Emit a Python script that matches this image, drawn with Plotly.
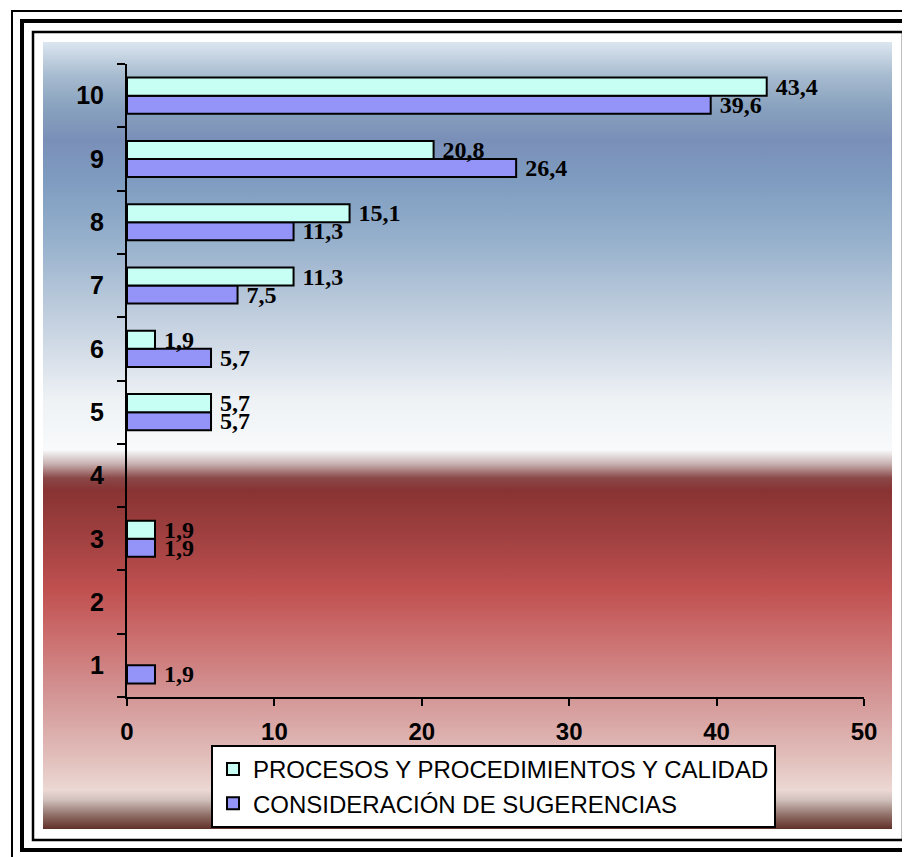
import base64
import plotly.graph_objects as go

# ---- data ----
categories = ["1", "2", "3", "4", "5", "6", "7", "8", "9", "10"]
procesos = [None, None, 1.9, None, 5.7, 1.9, 11.3, 15.1, 20.8, 43.4]
consideracion = [1.9, None, 1.9, None, 5.7, 5.7, 7.5, 11.3, 26.4, 39.6]
name_procesos = "PROCESOS Y PROCEDIMIENTOS Y CALIDAD"
name_consideracion = "CONSIDERACIÓN DE SUGERENCIAS"
x_ticks = [0, 10, 20, 30, 40, 50]

def fmt(vals):
    return ["" if v is None else " " + f"{v:.1f}".replace(".", ",") for v in vals]

W, H = 910, 857
OFF = 8  # page body margin
# plot area in page pixels
L, R, T, B = 127, 864, 64, 697

def px(x):
    return (x - L) / (R - L)

def py(y):
    return (B - y) / (B - T)

# ---- background gradient (SVG) ----
gx0, gy0, gx1, gy1 = 43, 42, 892, 829
stops = [
    (42, "#DCE6F0"), (75, "#A8BCD0"), (105, "#8AA3BF"), (140, "#7A8FB8"),
    (180, "#7E9CC0"), (240, "#96B0CC"), (300, "#B8C8DA"), (360, "#D8E0EA"),
    (400, "#EEF2F5"), (450, "#F8FAFB"), (464, "#C8B0B0"), (478, "#8A4848"),
    (490, "#883333"), (550, "#A84444"), (590, "#C05050"), (640, "#CC7070"),
    (700, "#D49898"), (760, "#E2C0BC"), (790, "#ECD8D4"), (800, "#D0C0BC"),
    (815, "#907068"), (829, "#603028"),
]
gw, gh = gx1 - gx0, gy1 - gy0
stop_xml = "".join(
    f'<stop offset="{(y - gy0) / gh:.4f}" stop-color="{c}"/>' for y, c in stops
)
svg = (
    f'<svg xmlns="http://www.w3.org/2000/svg" width="{gw}" height="{gh}" '
    f'viewBox="0 0 {gw} {gh}" preserveAspectRatio="none">'
    f'<defs><linearGradient id="g" x1="0" y1="0" x2="0" y2="1">{stop_xml}</linearGradient></defs>'
    f'<rect x="0" y="0" width="{gw}" height="{gh}" fill="url(#g)"/></svg>'
)
svg_uri = "data:image/svg+xml;base64," + base64.b64encode(svg.encode()).decode()

label_font = dict(family="Liberation Serif", size=24, color="black", weight="bold")

fig = go.Figure()
fig.add_trace(go.Bar(
    y=categories, x=consideracion, orientation="h", name=name_consideracion,
    marker=dict(color="#9494F8", line=dict(color="black", width=2)),
    text=fmt(consideracion), textposition="outside", cliponaxis=False,
    constraintext="none", textfont=label_font,
))
fig.add_trace(go.Bar(
    y=categories, x=procesos, orientation="h", name=name_procesos,
    marker=dict(color="#C8FFF4", line=dict(color="black", width=2)),
    text=fmt(procesos), textposition="outside", cliponaxis=False,
    constraintext="none", textfont=label_font,
))

shapes = [
    dict(type="rect", xref="paper", yref="paper", x0=px(12), x1=px(940), y0=py(11), y1=py(890),
         line=dict(color="black", width=2), fillcolor="rgba(0,0,0,0)"),
    dict(type="rect", xref="paper", yref="paper", x0=px(22), x1=px(940), y0=py(21), y1=py(850),
         line=dict(color="black", width=4), fillcolor="rgba(0,0,0,0)"),
    dict(type="rect", xref="paper", yref="paper", x0=px(33), x1=px(903), y0=py(32), y1=py(840),
         line=dict(color="black", width=2.5), fillcolor="rgba(0,0,0,0)"),
]

fig.update_layout(
    width=W, height=H,
    margin=dict(l=L - OFF, r=W - (R - OFF), t=T - OFF, b=H - (B - OFF), pad=0),
    paper_bgcolor="white", plot_bgcolor="rgba(0,0,0,0)",
    barmode="group", bargap=0.43, bargroupgap=0,
    showlegend=True,
    legend=dict(
        x=px(211), y=py(745), xanchor="left", yanchor="top",
        traceorder="reversed", bgcolor="white", bordercolor="black", borderwidth=2,
        font=dict(family="Liberation Sans", size=24, color="black"),
        tracegroupgap=0, itemwidth=30,
    ),
    images=[dict(source=svg_uri, xref="paper", yref="paper", x=px(gx0), y=py(gy0),
                 sizex=gw / (R - L), sizey=gh / (B - T), sizing="stretch",
                 xanchor="left", yanchor="top", layer="below")],
    shapes=shapes,
    font=dict(family="Liberation Sans", color="black"),
)
fig.update_xaxes(
    range=[0, 50], tickvals=x_ticks, ticks="outside", ticklen=7, tickwidth=2, tickcolor="black",
    showline=True, linecolor="black", linewidth=2, showgrid=False, zeroline=False,
    tickfont=dict(family="Liberation Sans", size=24, color="black", weight="bold"),
    ticklabelstandoff=5,
)
fig.update_yaxes(
    type="category", categoryorder="array", categoryarray=categories,
    range=[-0.5, 9.5], ticks="outside", tickson="boundaries", ticklen=8, tickwidth=2,
    tickcolor="black", showline=True, linecolor="black", linewidth=2, showgrid=False,
    tickfont=dict(family="Liberation Sans", size=25, color="black", weight="bold"),
    ticklabelstandoff=16,
)

fig.write_html("out.html")
